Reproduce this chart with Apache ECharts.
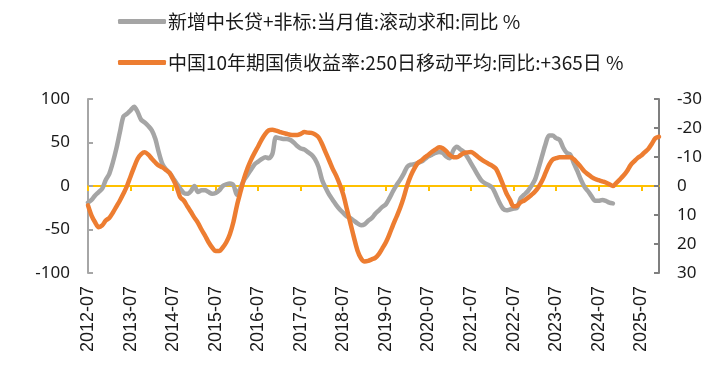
<!DOCTYPE html>
<html>
<head>
<meta charset="utf-8">
<script src="https://cdn.jsdelivr.net/npm/echarts@6/dist/echarts.min.js"></script>
<style>html,body{margin:0;padding:0;background:#fff;}#c{width:726px;height:381px;}</style>
</head>
<body>
<div id="c"></div>
<script>
// Monthly categories from 2012-07 to 2025-12
const startYear = 2012, startMonth = 7, monthCount = 162;
const categories = [];
for (let i = 0; i < monthCount; i++) {
  const t = (startMonth - 1) + i;
  const y = startYear + Math.floor(t / 12);
  const m = (t % 12) + 1;
  categories.push(y + '-' + (m < 10 ? '0' + m : '' + m));
}

const seriesNames = ['新增中长贷+非标:当月值:滚动求和:同比 %', '中国10年期国债收益率:250日移动平均:同比:+365日 %'];

// Left axis: 新增中长贷+非标 同比 (%), 2012-07 .. 2024-11
const loanYoY = [
-19,-16,-11,-7,-3,7,14,27,43,62,80,83,87,91,85,76,73,69,64,54,38,25,19,15,9,3,-3,-8,-9,-6,
0,-7,-5,-5,-7,-9,-8,-5,0,2,3,1,-10,-2,7,13,19,25,28,31,33,32,37,56,55,54,54,53,50,46,
43,42,39,36,31,22,7,-2,-10,-16,-22,-27,-31,-35,-37,-40,-43,-45,-44,-40,-37,-32,-28,-24,-21,-14,-6,1,7,14,
22,24.5,25,26.5,28,31,34,36,38,39,38,34,32,41,45,42,39,33,26,19,12,6,3,1,-2,-10,-19,-26,-28,-27,
-26,-25,-14,-10,-6,0,7,20,34,48,58,58,55,53,44,38,36,26,17,7,-1,-6,-12,-17,-17,-16,-17,-19,-20
];

// Right axis (inverted): 中国10年期国债收益率 250日移动平均 同比 +365日 (%), 2012-07 .. 2025-12
const bondYoY = [
6.7,10.2,12.5,14.2,13.6,11.9,11,9.2,7.1,5,2.6,0,-3.3,-6.5,-9.4,-11,-11.6,-10.8,-9.4,-8.1,
-7,-6.4,-5.5,-4.5,-2.3,0.4,3.9,5,7,8.9,10.9,12.7,15,17.1,19.4,21.2,22.4,22.4,21.2,19.4,
16.6,12.4,6.7,2,-2.6,-6.2,-9.1,-11.5,-13.7,-16.1,-18,-19.2,-19.4,-19.1,-18.7,-18.3,-18,-17.7,-17.6,-17.6,
-18,-18.6,-18.4,-18.3,-17.8,-16.8,-14.5,-11.6,-8.8,-5.9,-3.5,-0.5,3.1,8,12.9,17.8,22.3,25,26,25.8,
25.3,24.8,23.5,21.5,19.4,16.6,13.5,10.6,7.6,4,-0.2,-3.5,-6,-7.9,-8.8,-9.9,-10.8,-11.8,-12.6,-13.4,
-13,-12,-10.7,-9.9,-9.9,-10.6,-11.4,-11.6,-11.7,-11,-10,-9.1,-8.3,-7.6,-6.9,-6,-3.5,-0.5,2.6,4.8,
7,6.8,5.6,5,4.1,3.1,2,0.4,-1.7,-4.5,-7.3,-9.1,-9.6,-9.9,-9.9,-9.9,-9.9,-9.2,-7.9,-6.5,
-5,-4,-3.1,-2.4,-2,-1.6,-1.2,-0.6,0,-1.1,-2.3,-3.6,-5.2,-7.2,-8.5,-9.7,-10.5,-11.7,-12.8,-14.6,
-16.5,-17
];

const leftTicks = [-100, -50, 0, 50, 100];
const rightTicks = [-30, -20, -10, 0, 10, 20, 30];

const chart = echarts.init(document.getElementById('c'), null, {renderer: 'canvas'});
const every12 = (i) => i % 12 === 0;
chart.setOption({
  animation: false,
  backgroundColor: '#ffffff',
  legend: {
    orient: 'vertical',
    left: 113,
    top: 7,
    itemGap: 22,
    itemWidth: 48,
    itemHeight: 5,
    icon: 'roundRect',
    textStyle: {fontFamily: 'Noto Sans CJK SC', fontSize: 19, color: '#1a1a1a', padding: [0,0,0,-3]},
    data: seriesNames
  },
  grid: {left: 88, right: 67, top: 99, bottom: 108, containLabel: false},
  xAxis: [
    {
      type: 'category', data: categories, boundaryGap: false,
      axisLine: {onZero: true, lineStyle: {color: '#FFC000', width: 2}},
      axisTick: {show: true, interval: (i) => every12(i), length: 5, lineStyle: {color: '#FFC000', width: 2}},
      axisLabel: {show: false},
      splitLine: {show: false}
    },
    {
      type: 'category', data: categories, boundaryGap: false, position: 'bottom',
      axisLine: {show: false, onZero: false},
      axisTick: {show: false},
      axisLabel: {show: true, interval: (i) => every12(i), rotate: 90, margin: 13,
        fontFamily: 'Liberation Sans', fontSize: 18, color: '#1a1a1a'},
      splitLine: {show: false}
    }
  ],
  yAxis: [
    {
      type: 'value', min: -100, max: 100, interval: 50, position: 'left',
      axisLine: {show: true, lineStyle: {color: '#A6A6A6', width: 2}},
      axisTick: {show: true, inside: true, length: 5, lineStyle: {color: '#A6A6A6', width: 2}},
      axisLabel: {fontFamily: 'Noto Sans', fontSize: 17, color: '#1a1a1a', margin: 18},
      splitLine: {show: false}
    },
    {
      type: 'value', min: -30, max: 30, interval: 10, position: 'right', inverse: true,
      axisLine: {show: true, lineStyle: {color: '#7F7F7F', width: 2}},
      axisTick: {show: true, inside: true, length: 5, lineStyle: {color: '#7F7F7F', width: 2}},
      axisLabel: {fontFamily: 'Noto Sans', fontSize: 17, color: '#1a1a1a', margin: 18},
      splitLine: {show: false}
    }
  ],
  series: [
    {
      name: seriesNames[0], type: 'line', xAxisIndex: 0, yAxisIndex: 0,
      data: loanYoY, showSymbol: false, symbol: 'none', smooth: 0.3,
      lineStyle: {color: '#A5A5A5', width: 4.5, cap: 'round', join: 'round'},
      itemStyle: {color: '#A5A5A5'}, z: 2
    },
    {
      name: seriesNames[1], type: 'line', xAxisIndex: 0, yAxisIndex: 1,
      data: bondYoY, showSymbol: false, symbol: 'none', smooth: 0.3,
      lineStyle: {color: '#ED7D31', width: 4.5, cap: 'round', join: 'round'},
      itemStyle: {color: '#ED7D31'}, z: 3
    }
  ]
});
</script>
</body>
</html>
